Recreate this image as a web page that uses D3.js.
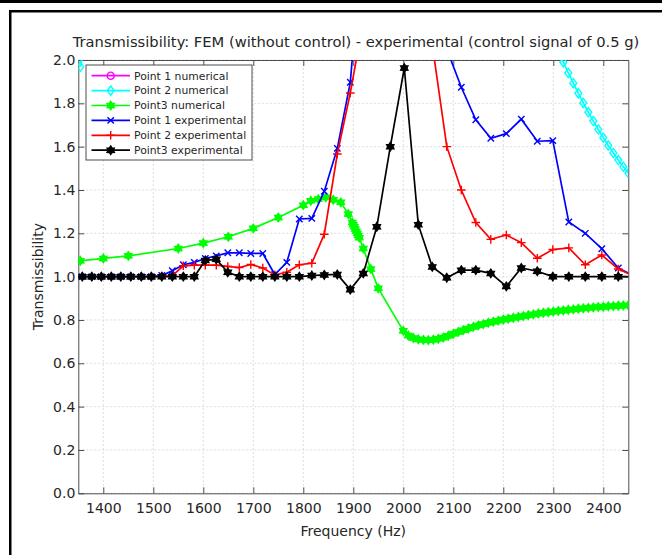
<!DOCTYPE html>
<html><head><meta charset="utf-8">
<script src="https://cdn.jsdelivr.net/npm/d3@7"></script>
<style>body{margin:0;background:#fff}svg{display:block}text{font-family:"DejaVu Sans",sans-serif;fill:#262626}</style>
</head><body><svg id="c" width="662" height="555"></svg>
<script>
// ---------------- data ----------------
const xTicks = [1400,1500,1600,1700,1800,1900,2000,2100,2200,2300,2400];
const yTicks = [0,0.2,0.4,0.6,0.8,1.0,1.2,1.4,1.6,1.8,2.0];
const seriesNames = ["Point 1 numerical","Point 2 numerical","Point3 numerical","Point 1 experimental","Point 2 experimental","Point3 experimental"];

const numFreq = [1354,1400,1450,1550,1600,1650,1700,1750,1800,1815,1830,1845,1860,1875,1890,
  1898,1900,1902,1904,1906,1908,1910,1912,1920,1935,1950,
  2000,2010,2020,2030,2040,2050,2060,2070,2080,2090,2100,2110,2120,2130,2140,2150,2160,2170,2180,2190,
  2200,2210,2220,2230,2240,2250,2260,2270,2280,2290,2300,2310,2320,2330,2340,2350,2360,2370,2380,2390,
  2400,2410,2420,2430,2440,2450];
const p1Num = [2.4,2.9,3.6,5.5,7,9,12,17,26,30,36,43,51,60,70,
  75,77,79,81,82,81,80,78,72,58,45,
  24,17,12,9,7.2,6,5.2,4.6,4.2,3.9,3.7,3.55,3.45,3.37,3.3,3.24,3.19,3.15,3.11,3.08,
  3.05,3.02,3.0,2.98,2.96,2.94,2.92,2.9,2.88,2.86,2.84,2.82,2.8,2.78,2.76,2.74,2.72,2.7,2.68,2.66,
  2.64,2.62,2.6,2.58,2.56,2.54];
const p2Num = [1.969,2.45,3.05,4.6,5.8,7.5,10,14,22,26,31,37,44,52,60,
  64,66,68,70,71,70,69,67,62,50,40,
  20,14,10,7.5,6,5,4.3,3.8,3.45,3.2,3.0,2.88,2.78,2.7,2.63,2.57,2.52,2.48,2.45,2.42,
  2.39,2.36,2.33,2.3,2.27,2.24,2.21,2.18,2.15,2.12,2.094,2.041,1.99,1.94,1.893,1.846,1.802,1.759,1.718,1.679,
  1.641,1.605,1.571,1.538,1.507,1.478];
const p3Num = [1.073,1.084,1.096,1.13,1.155,1.184,1.223,1.273,1.33,1.35,1.358,1.366,1.355,1.343,1.289,
  1.25,1.24,1.23,1.22,1.21,1.20,1.19,1.18,1.13,1.035,0.946,
  0.750,0.728,0.717,0.711,0.708,0.707,0.709,0.713,0.719,0.727,0.736,0.745,0.753,0.761,0.768,0.775,0.781,0.787,0.792,0.797,
  0.802,0.806,0.810,0.814,0.818,0.822,0.826,0.830,0.833,0.836,0.839,0.842,0.844,0.847,0.849,0.852,0.854,0.856,0.858,0.860,
  0.861,0.863,0.864,0.866,0.867,0.868];

const expFreq = [1339,1358,1377,1396,1416,1435,1455,1476,1496,1517,
  1538,1560,1582,1604,1626,1649,1672,1695,1719,1743,
  1767,1792,1817,1842,1868,1894,1920,1947,1974,2002,
  2030,2058,2087,2116,2145,2175,2206,2236,2268,2299,
  2331,2364,2397,2430,2464];
const p1Exp = [1.0,
  1.0,1.0,1.0,1.0,1.0,1.0,1.0,1.0,1.005,
  1.027,1.055,1.066,1.084,1.096,1.11,1.11,1.107,1.107,1.01,
  1.066,1.266,1.269,1.394,1.592,1.897,2.61,3.5,4.3,4.6,
  3.9,2.9,2.05,1.874,1.724,1.639,1.66,1.727,1.625,1.628,
  1.252,1.20,1.129,1.04,1.0];
const p2Exp = [1.0,
  1.0,1.0,1.0,1.0,1.0,1.0,1.0,1.0,1.0,
  1.005,1.05,1.053,1.053,1.053,1.047,1.042,1.056,1.04,1.008,
  1.02,1.055,1.062,1.196,1.566,1.848,2.18,3.0,3.6,3.4,
  2.8,2.07,1.60,1.40,1.25,1.172,1.192,1.157,1.085,1.125,
  1.133,1.055,1.10,1.035,1.0];
const p3Exp = [1.0,
  1.0,1.0,1.0,1.0,1.0,1.0,1.0,1.0,1.0,
  1.0,1.0,1.0,1.075,1.08,1.02,1.0,1.0,1.0,1.0,
  1.0,1.0,1.005,1.008,1.01,0.94,1.015,1.23,1.60,1.963,
  1.24,1.045,0.995,1.03,1.03,1.015,0.955,1.04,1.025,1.0,
  1.0,1.0,1.0,1.0,1.0];

// ---------------- layout ----------------
const L = 78.3, R = 628.3, T = 60, B = 493.3;
const svg = d3.select("#c");
const x = d3.scaleLinear().domain([1350, 2450]).range([L, R]);
const y = d3.scaleLinear().domain([0, 2]).range([B, T]);

// outer frame decorations
svg.append("rect").attr("x",0).attr("y",0).attr("width",662).attr("height",3).attr("fill","#000");
svg.append("rect").attr("x",9).attr("y",10).attr("width",653).attr("height",2.5).attr("fill","#000");
svg.append("rect").attr("x",9).attr("y",10).attr("width",2.5).attr("height",545).attr("fill","#000");

// plot background
svg.append("rect").attr("x",L).attr("y",T).attr("width",R-L).attr("height",B-T).attr("fill","#fff");

// grid
const grid = svg.append("g").attr("stroke","#d4d4d4").attr("stroke-width",0.8).attr("stroke-dasharray","2,2");
grid.selectAll(".gx").data(xTicks).join("line")
  .attr("x1",d=>x(d)).attr("x2",d=>x(d)).attr("y1",T).attr("y2",B);
grid.selectAll(".gy").data(yTicks).join("line")
  .attr("y1",d=>y(d)).attr("y2",d=>y(d)).attr("x1",L).attr("x2",R);

// axes
const axCol = "#4d4d4d";
function styleAxis(g){
  g.select(".domain").attr("stroke",axCol).attr("stroke-width",1);
  g.selectAll(".tick line").attr("stroke",axCol);
  g.selectAll("text").attr("font-family","DejaVu Sans").attr("font-size",14).attr("fill","#262626");
}
svg.append("g").attr("transform",`translate(0,${B})`)
  .call(d3.axisBottom(x).tickValues(xTicks).tickSizeInner(-6).tickSizeOuter(0).tickPadding(10).tickFormat(d3.format("d")))
  .call(styleAxis);
svg.append("g").attr("transform",`translate(0,${T})`)
  .call(d3.axisTop(x).tickValues(xTicks).tickSizeInner(-6).tickSizeOuter(0).tickFormat(""))
  .call(styleAxis);
svg.append("g").attr("transform",`translate(${L},0)`)
  .call(d3.axisLeft(y).tickValues(yTicks).tickSizeInner(-6).tickSizeOuter(0).tickPadding(3).tickFormat(d3.format(".1f")))
  .call(styleAxis);
svg.append("g").attr("transform",`translate(${R},0)`)
  .call(d3.axisRight(y).tickValues(yTicks).tickSizeInner(-6).tickSizeOuter(0).tickFormat(""))
  .call(styleAxis);

// clip
svg.append("clipPath").attr("id","clip").append("rect").attr("x",L).attr("y",T).attr("width",R-L).attr("height",B-T);

// marker shapes
function starPath(n, Ro, Ri){
  let p = "";
  for (let i = 0; i < 2*n; i++){
    const a = -Math.PI/2 + i*Math.PI/n, r = i%2 ? Ri : Ro;
    p += (i ? "L" : "M") + (r*Math.cos(a)).toFixed(2) + "," + (r*Math.sin(a)).toFixed(2);
  }
  return p + "Z";
}
const markers = {
  circle: {d: d3.symbol(d3.symbolCircle, 40)(), fill: false},
  diamond: {d: "M0,-4.6L3.4,0L0,4.6L-3.4,0Z", fill: false},
  star: {d: starPath(6, 4.2, 2.6), fill: true},
  cross: {d: "M-3.2,-3.2L3.2,3.2M-3.2,3.2L3.2,-3.2", fill: false},
  plus: {d: "M-4.3,0L4.3,0M0,-4.3L0,4.3", fill: false}
};

const series = [
  {name: seriesNames[0], fx: numFreq, v: p1Num, color: "#ff00ff", m: "circle"},
  {name: seriesNames[1], fx: numFreq, v: p2Num, color: "#00ffff", m: "diamond"},
  {name: seriesNames[2], fx: numFreq, v: p3Num, color: "#00ff00", m: "star"},
  {name: seriesNames[3], fx: expFreq, v: p1Exp, color: "#0000ff", m: "cross"},
  {name: seriesNames[4], fx: expFreq, v: p2Exp, color: "#ff0000", m: "plus"},
  {name: seriesNames[5], fx: expFreq, v: p3Exp, color: "#000000", m: "star"}
];

const plot = svg.append("g").attr("clip-path","url(#clip)");
const line = d3.line().x(d=>x(d[0])).y(d=>y(d[1]));
series.forEach(s => {
  const pts = s.fx.map((f,i)=>[f, s.v[i]]);
  const g = plot.append("g");
  g.append("path").attr("d", line(pts)).attr("fill","none").attr("stroke",s.color).attr("stroke-width",1.7);
  const mk = markers[s.m];
  g.selectAll("path.mk").data(pts).join("path").attr("class","mk")
    .attr("transform", d=>`translate(${x(d[0])},${y(d[1])})`)
    .attr("d", mk.d)
    .attr("fill", mk.fill ? s.color : "none")
    .attr("stroke", s.color).attr("stroke-width", 1.4);
});

// titles
svg.append("text").attr("x",356).attr("y",47).attr("text-anchor","middle")
  .attr("font-size",14.7).text("Transmissibility: FEM (without control) - experimental (control signal of 0.5 g)");
svg.append("text").attr("x",(L+R)/2).attr("y",536).attr("text-anchor","middle")
  .attr("font-size",14).text("Frequency (Hz)");
svg.append("text").attr("transform",`translate(43,${(T+B)/2}) rotate(-90)`).attr("text-anchor","middle")
  .attr("font-size",14).text("Transmissibility");

// legend
const lg = svg.append("g");
const lx = 86, ly = 65, lw = 166, lh = 95;
lg.append("rect").attr("x",lx).attr("y",ly).attr("width",lw).attr("height",lh)
  .attr("fill","#fff").attr("stroke","#4d4d4d").attr("stroke-width",1);
series.forEach((s,i) => {
  const yy = ly + 10.7 + i*14.9;
  lg.append("line").attr("x1",lx+5.5).attr("x2",lx+44).attr("y1",yy).attr("y2",yy)
    .attr("stroke",s.color).attr("stroke-width",1.7);
  const mk = markers[s.m];
  lg.append("path").attr("transform",`translate(${lx+24.7},${yy})`).attr("d",mk.d)
    .attr("fill", mk.fill ? s.color : "none").attr("stroke",s.color).attr("stroke-width",1.4);
  lg.append("text").attr("x",lx+48).attr("y",yy).attr("dy","0.36em")
    .attr("font-size",10.8).text(s.name);
});
</script></body></html>
